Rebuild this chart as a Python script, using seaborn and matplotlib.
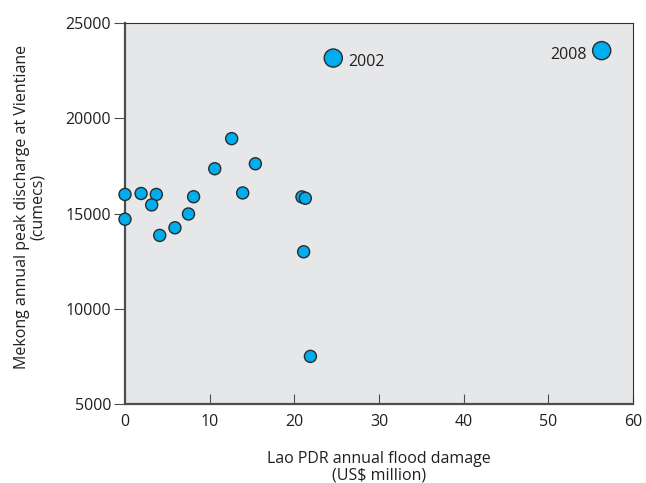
import matplotlib
matplotlib.use("Agg")
import matplotlib.pyplot as plt
import seaborn as sns
import pandas as pd

# Data
damage = [0, 0, 1.9, 3.7, 3.15, 4.1, 5.9, 7.5, 8.1, 10.6, 12.6, 13.9, 15.4,
          20.9, 21.3, 21.1, 21.9, 24.6, 56.3]
discharge = [16000, 14700, 16050, 16000, 15450, 13850, 14250, 14975, 15880,
             17350, 18930, 16080, 17610, 15870, 15800, 12990, 7500, 23160, 23550]
year_label = [""] * 17 + ["2002", "2008"]
x_ticks = [0, 10, 20, 30, 40, 50, 60]
y_ticks = [5000, 10000, 15000, 20000, 25000]

df = pd.DataFrame({"damage": damage, "discharge": discharge, "label": year_label})
df["kind"] = ["big" if l else "small" for l in df["label"]]

sns.set_style("white")
plt.rcParams["font.family"] = ["Open Sans", "DejaVu Sans"]

FS = 11.5
fig = plt.figure(figsize=(6.46, 4.83), dpi=100)
ax = fig.add_axes([125 / 646, 1 - 404 / 483, (633 - 125) / 646, (404 - 23) / 483])
ax.set_facecolor("#e6e7e8")

sns.scatterplot(data=df, x="damage", y="discharge", size="kind",
                sizes={"small": 75, "big": 170}, color="#00aeef",
                edgecolor="#2b2b2b", linewidth=1.0, legend=False, ax=ax,
                zorder=3, clip_on=False)

for _, r in df[df["label"] != ""].iterrows():
    if r["label"] == "2002":
        ax.annotate(r["label"], (r["damage"], r["discharge"]), xytext=(11, -3),
                    textcoords="offset points", ha="left", va="center",
                    fontsize=FS, color="#231f20")
    else:
        ax.annotate(r["label"], (r["damage"], r["discharge"]), xytext=(-11, -3),
                    textcoords="offset points", ha="right", va="center",
                    fontsize=FS, color="#231f20")

ax.set_xlim(0, 60)
ax.set_ylim(5000, 25000)
ax.set_xticks(x_ticks)
ax.set_yticks(y_ticks)

for s in ["left", "bottom"]:
    ax.spines[s].set_color("#4d4d4f")
    ax.spines[s].set_linewidth(1.6)
for s in ["top", "right"]:
    ax.spines[s].set_color("#333333")
    ax.spines[s].set_linewidth(0.8)

ax.tick_params(axis="y", direction="out", length=8, width=0.8, color="#4d4d4f",
               labelsize=FS, labelcolor="#231f20", pad=2, left=True)
ax.tick_params(axis="x", direction="in", length=7, width=0.8, color="#4d4d4f",
               labelsize=FS, labelcolor="#231f20", pad=7, bottom=True)

ax.set_xlabel("Lao PDR annual flood damage\n(US\\$ million)", fontsize=FS,
              color="#231f20", labelpad=15, linespacing=1.05)
ax.set_ylabel("Mekong annual peak discharge at Vientiane\n(cumecs)", fontsize=FS,
              color="#231f20", linespacing=1.0)
ax.yaxis.set_label_coords((46 - 125) / 508, (404 - 207) / 381)

fig.savefig("out.png", dpi=100)
